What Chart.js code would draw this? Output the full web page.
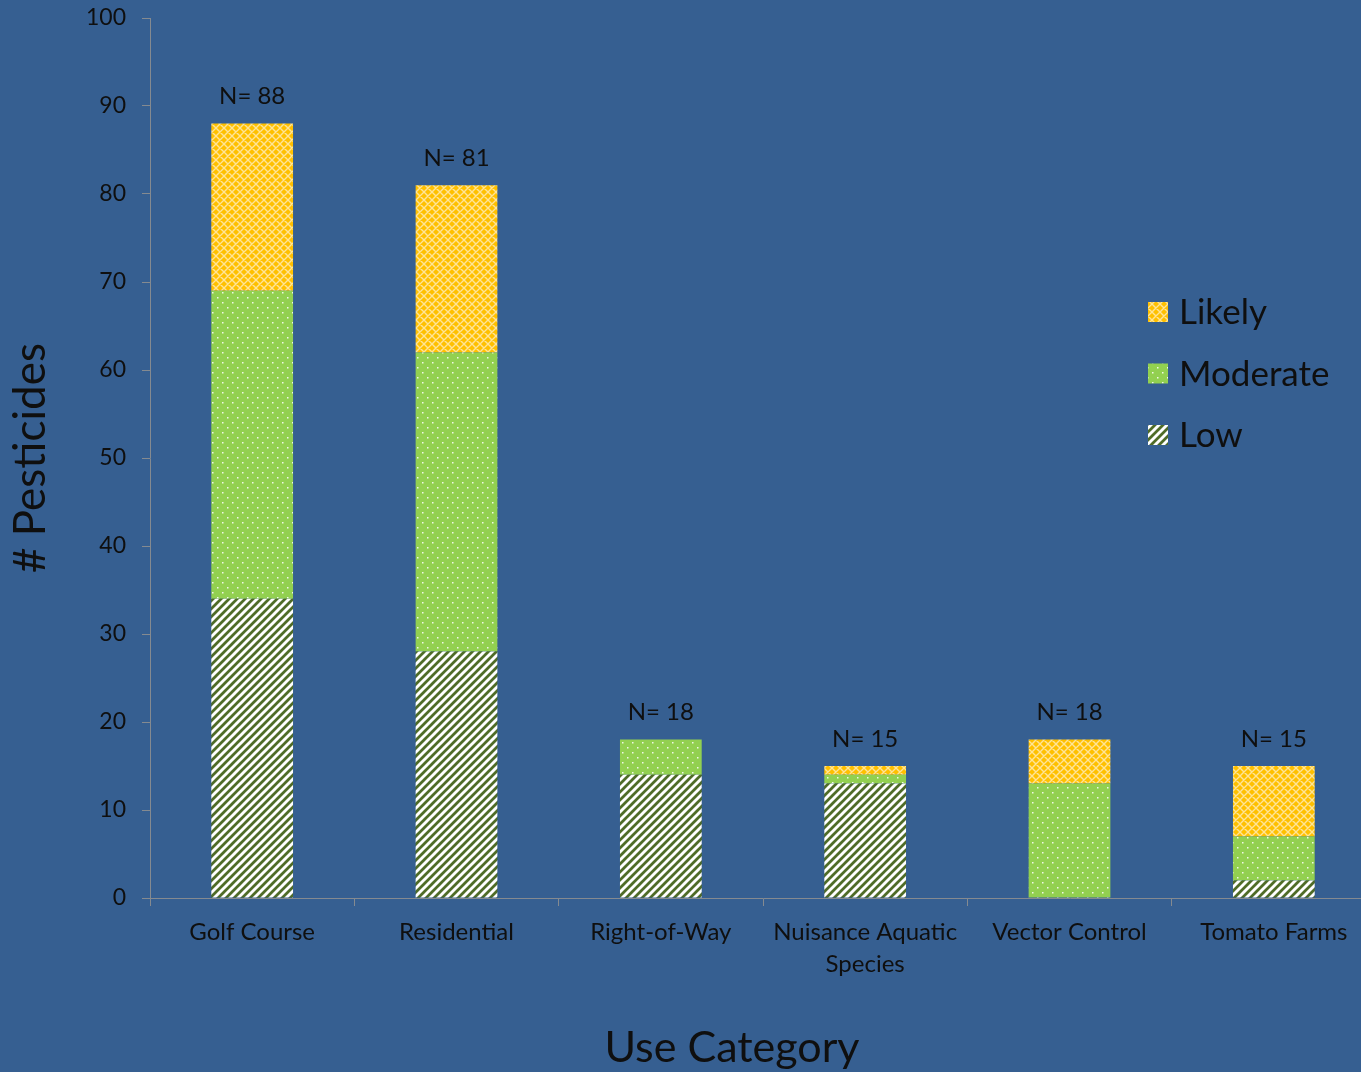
<!DOCTYPE html>
<html><head><meta charset="utf-8">
<script src="https://cdn.jsdelivr.net/npm/chart.js@4/dist/chart.umd.min.js"></script>
<style>
html,body{margin:0;padding:0;background:#365F91;overflow:hidden;}
#wrap{width:1380px;height:1072px;position:relative;}
</style></head><body>
<div id="wrap"><canvas id="c"></canvas></div>
<script>
// ---- data ----
const categories = ['Golf Course', 'Residential', 'Right-of-Way', ['Nuisance Aquatic', 'Species'], 'Vector Control', 'Tomato Farms'];
const lowValues = [34, 28, 14, 13, 0, 2];
const moderateValues = [35, 34, 4, 1, 13, 5];
const likelyValues = [19, 19, 0, 1, 5, 8];
const totals = [88, 81, 18, 15, 18, 15];
const seriesNames = ['Low', 'Moderate', 'Likely'];
const yMin = 0, yMax = 100, yStep = 10;
const xTitle = 'Use Category';
const yTitle = '# Pesticides';

// ---- styles ----
const FONT = 'Lato, "Open Sans", sans-serif';
const TEXT = '#0f0f0f';
const AXIS = '#858a90';

function makePattern(kind) {
  const c = document.createElement('canvas');
  const ctx = c.getContext('2d');
  if (kind === 'low') {
    const s = 8; c.width = s; c.height = s;
    ctx.fillStyle = '#4F6C27'; ctx.fillRect(0, 0, s, s);
    ctx.strokeStyle = '#ffffff'; ctx.lineWidth = 2.9;
    ctx.beginPath();
    for (let k = -1; k <= 1; k++) {
      ctx.moveTo(k * s - 1, s + 1); ctx.lineTo(k * s + s + 1, -1);
    }
    ctx.stroke();
  } else if (kind === 'moderate') {
    const s = 10; c.width = s; c.height = s;
    ctx.fillStyle = '#92D050'; ctx.fillRect(0, 0, s, s);
    ctx.fillStyle = 'rgba(255,255,255,0.85)';
    ctx.fillRect(2, 2, 1.5, 1.5);
    ctx.fillRect(7, 7, 1.5, 1.5);
  } else {
    const s = 8; c.width = s; c.height = s;
    ctx.fillStyle = '#FFC000'; ctx.fillRect(0, 0, s, s);
    ctx.strokeStyle = 'rgba(255,240,200,0.75)'; ctx.lineWidth = 1.4;
    ctx.beginPath();
    for (let k = -1; k <= 1; k++) {
      ctx.moveTo(k * s, 0); ctx.lineTo(k * s + s, s);
      ctx.moveTo(k * s, s); ctx.lineTo(k * s + s, 0);
    }
    ctx.stroke();
  }
  return document.createElement('canvas').getContext('2d').createPattern(c, 'repeat');
}
const patLow = makePattern('low');
const patMod = makePattern('moderate');
const patLik = makePattern('likely');

const nLabelPlugin = {
  id: 'nLabels',
  afterDatasetsDraw(chart) {
    const ctx = chart.ctx, xs = chart.scales.x, ys = chart.scales.y;
    ctx.save();
    ctx.font = '24px ' + FONT;
    ctx.fillStyle = TEXT;
    ctx.textAlign = 'center';
    ctx.textBaseline = 'middle';
    totals.forEach((t, i) => {
      ctx.fillText('N= ' + t, xs.getPixelForValue(i), ys.getPixelForValue(t) - 27);
    });
    ctx.restore();
  }
};

const legendPlugin = {
  id: 'customLegend',
  afterDraw(chart) {
    const ctx = chart.ctx;
    const items = [[seriesNames[2], patLik], [seriesNames[1], patMod], [seriesNames[0], patLow]];
    ctx.save();
    ctx.font = '35px ' + FONT;
    ctx.textBaseline = 'middle';
    items.forEach((it, k) => {
      const cy = 312 + k * 61.5;
      ctx.fillStyle = it[1];
      ctx.fillRect(1148, cy - 10, 20, 20);
      ctx.fillStyle = TEXT;
      ctx.textAlign = 'left';
      ctx.fillText(it[0], 1179, cy + 1);
    });
    ctx.restore();
  }
};

const xTitlePlugin = {
  id: 'xTitle',
  afterDraw(chart) {
    const ctx = chart.ctx, a = chart.chartArea;
    ctx.save();
    ctx.font = '43px ' + FONT;
    ctx.fillStyle = TEXT;
    ctx.textAlign = 'center';
    ctx.textBaseline = 'middle';
    ctx.fillText(xTitle, (a.left + a.right) / 2 - 31, 1048);
    ctx.restore();
  }
};

new Chart(document.getElementById('c'), {
  type: 'bar',
  data: {
    labels: categories,
    datasets: [
      { label: seriesNames[0], data: lowValues, backgroundColor: patLow },
      { label: seriesNames[1], data: moderateValues, backgroundColor: patMod },
      { label: seriesNames[2], data: likelyValues, backgroundColor: patLik }
    ]
  },
  options: {
    responsive: true,
    maintainAspectRatio: false,
    animation: false,
    devicePixelRatio: 1,
    layout: { padding: { top: 18, right: 4, left: 0, bottom: 0 } },
    datasets: { bar: { barPercentage: 0.40, categoryPercentage: 1.0, borderWidth: 0 } },
    plugins: { legend: { display: false }, tooltip: { enabled: false } },
    scales: {
      x: {
        stacked: true,
        afterFit(s) { s.height = 174; s.paddingLeft = 0; s.paddingRight = 0; },
        grid: { display: true, drawOnChartArea: false, drawTicks: true, tickLength: 8, color: AXIS, offset: true },
        border: { display: true, color: AXIS, width: 1 },
        ticks: { color: TEXT, font: { family: FONT, size: 24, lineHeight: 1.35 }, padding: 10, maxRotation: 0, autoSkip: false }
      },
      y: {
        stacked: true,
        min: yMin, max: yMax,
        afterFit(s) { s.width = 150; s.paddingTop = 0; s.paddingBottom = 0; },
        grid: { display: true, drawOnChartArea: false, drawTicks: true, tickLength: 8, color: AXIS },
        border: { display: true, color: AXIS, width: 1 },
        ticks: { stepSize: yStep, color: TEXT, font: { family: FONT, size: 23 }, padding: 16 },
        title: { display: true, text: yTitle, color: TEXT, font: { family: FONT, size: 44 }, padding: { top: 4, bottom: 0 } }
      }
    }
  },
  plugins: [nLabelPlugin, legendPlugin, xTitlePlugin]
});
</script>
</body></html>
